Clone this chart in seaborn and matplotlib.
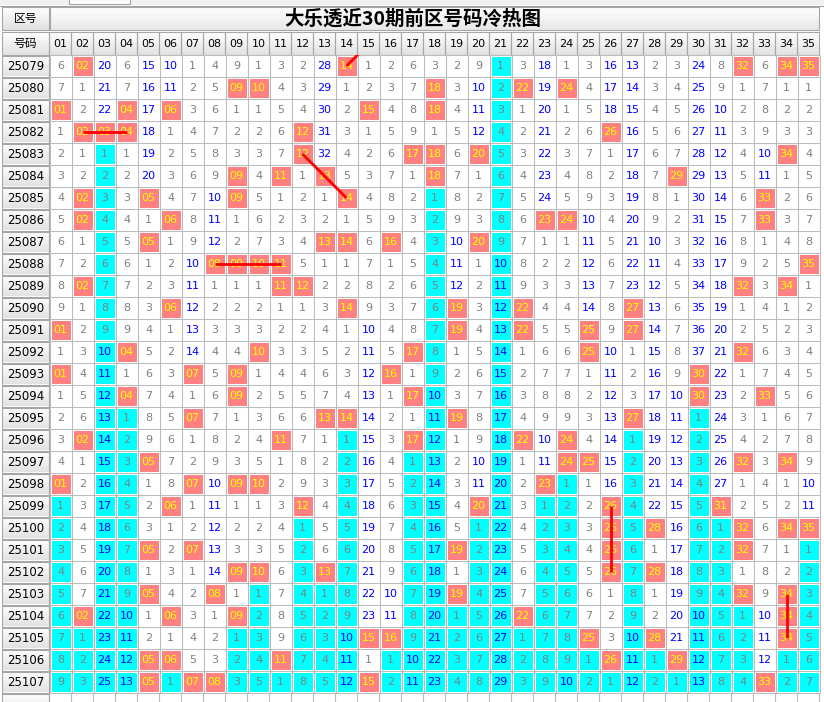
import numpy as np
import pandas as pd
import matplotlib
matplotlib.use("Agg")
import matplotlib.pyplot as plt
from matplotlib.colors import ListedColormap, to_rgb
from matplotlib.patches import Rectangle
import seaborn as sns

sns.set_theme(style="white")
CJK = ["Noto Sans CJK SC", "DejaVu Sans"]
plt.rcParams["font.family"] = ["DejaVu Sans"]

TITLE = "大乐透近30期前区号码冷热图"
CORNER_TOP = "区号"
CORNER_BOTTOM = "号码"

periods = [str(p) for p in range(25079, 25108)]
numbers = [f"{n:02d}" for n in range(1, 36)]

# omission count of every front-zone number per period (0 = drawn that period)
r25079 = [6, 0, 20, 6, 15, 10, 1, 4, 9, 1, 3, 2, 28, 0, 1, 2, 6, 3, 2, 9, 1, 3, 18, 1, 3, 16, 13, 2, 3, 24, 8, 0, 6, 0, 0]
r25080 = [7, 1, 21, 7, 16, 11, 2, 5, 0, 0, 4, 3, 29, 1, 2, 3, 7, 0, 3, 10, 2, 0, 19, 0, 4, 17, 14, 3, 4, 25, 9, 1, 7, 1, 1]
r25081 = [0, 2, 22, 0, 17, 0, 3, 6, 1, 1, 5, 4, 30, 2, 0, 4, 8, 0, 4, 11, 3, 1, 20, 1, 5, 18, 15, 4, 5, 26, 10, 2, 8, 2, 2]
r25082 = [1, 0, 0, 0, 18, 1, 4, 7, 2, 2, 6, 0, 31, 3, 1, 5, 9, 1, 5, 12, 4, 2, 21, 2, 6, 0, 16, 5, 6, 27, 11, 3, 9, 3, 3]
r25083 = [2, 1, 1, 1, 19, 2, 5, 8, 3, 3, 7, 0, 32, 4, 2, 6, 0, 0, 6, 0, 5, 3, 22, 3, 7, 1, 17, 6, 7, 28, 12, 4, 10, 0, 4]
r25084 = [3, 2, 2, 2, 20, 3, 6, 9, 0, 4, 0, 1, 0, 5, 3, 7, 1, 0, 7, 1, 6, 4, 23, 4, 8, 2, 18, 7, 0, 29, 13, 5, 11, 1, 5]
r25085 = [4, 0, 3, 3, 0, 4, 7, 10, 0, 5, 1, 2, 1, 0, 4, 8, 2, 1, 8, 2, 7, 5, 24, 5, 9, 3, 19, 8, 1, 30, 14, 6, 0, 2, 6]
r25086 = [5, 0, 4, 4, 1, 0, 8, 11, 1, 6, 2, 3, 2, 1, 5, 9, 3, 2, 9, 3, 8, 6, 0, 0, 10, 4, 20, 9, 2, 31, 15, 7, 0, 3, 7]
r25087 = [6, 1, 5, 5, 0, 1, 9, 12, 2, 7, 3, 4, 0, 0, 6, 0, 4, 3, 10, 0, 9, 7, 1, 1, 11, 5, 21, 10, 3, 32, 16, 8, 1, 4, 8]
r25088 = [7, 2, 6, 6, 1, 2, 10, 0, 0, 0, 0, 5, 1, 1, 7, 1, 5, 4, 11, 1, 10, 8, 2, 2, 12, 6, 22, 11, 4, 33, 17, 9, 2, 5, 0]
r25089 = [8, 0, 7, 7, 2, 3, 11, 1, 1, 1, 0, 0, 2, 2, 8, 2, 6, 5, 12, 2, 11, 9, 3, 3, 13, 7, 23, 12, 5, 34, 18, 0, 3, 0, 1]
r25090 = [9, 1, 8, 8, 3, 0, 12, 2, 2, 2, 1, 1, 3, 0, 9, 3, 7, 6, 0, 3, 12, 0, 4, 4, 14, 8, 0, 13, 6, 35, 19, 1, 4, 1, 2]
r25091 = [0, 2, 9, 9, 4, 1, 13, 3, 3, 3, 2, 2, 4, 1, 10, 4, 8, 7, 0, 4, 13, 0, 5, 5, 0, 9, 0, 14, 7, 36, 20, 2, 5, 2, 3]
r25092 = [1, 3, 10, 0, 5, 2, 14, 4, 4, 0, 3, 3, 5, 2, 11, 5, 0, 8, 1, 5, 14, 1, 6, 6, 0, 10, 1, 15, 8, 37, 21, 0, 6, 3, 4]
r25093 = [0, 4, 11, 1, 6, 3, 0, 5, 0, 1, 4, 4, 6, 3, 12, 0, 1, 9, 2, 6, 15, 2, 7, 7, 1, 11, 2, 16, 9, 0, 22, 1, 7, 4, 5]
r25094 = [1, 5, 12, 0, 7, 4, 1, 6, 0, 2, 5, 5, 7, 4, 13, 1, 0, 10, 3, 7, 16, 3, 8, 8, 2, 12, 3, 17, 10, 0, 23, 2, 0, 5, 6]
r25095 = [2, 6, 13, 1, 8, 5, 0, 7, 1, 3, 6, 6, 0, 0, 14, 2, 1, 11, 0, 8, 17, 4, 9, 9, 3, 13, 0, 18, 11, 1, 24, 3, 1, 6, 7]
r25096 = [3, 0, 14, 2, 9, 6, 1, 8, 2, 4, 0, 7, 1, 1, 15, 3, 0, 12, 1, 9, 18, 0, 10, 0, 4, 14, 1, 19, 12, 2, 25, 4, 2, 7, 8]
r25097 = [4, 1, 15, 3, 0, 7, 2, 9, 3, 5, 1, 8, 2, 2, 16, 4, 1, 13, 2, 10, 19, 1, 11, 0, 0, 15, 2, 20, 13, 3, 26, 0, 3, 0, 9]
r25098 = [0, 2, 16, 4, 1, 8, 0, 10, 0, 0, 2, 9, 3, 3, 17, 5, 2, 14, 3, 11, 20, 2, 0, 1, 1, 16, 3, 21, 14, 4, 27, 1, 4, 1, 10]
r25099 = [1, 3, 17, 5, 2, 0, 1, 11, 1, 1, 3, 0, 4, 4, 18, 6, 3, 15, 4, 0, 21, 3, 1, 2, 2, 0, 4, 22, 15, 5, 0, 2, 5, 2, 11]
r25100 = [2, 4, 18, 6, 3, 1, 2, 12, 2, 2, 4, 1, 5, 5, 19, 7, 4, 16, 5, 1, 22, 4, 2, 3, 3, 0, 5, 0, 16, 6, 1, 0, 6, 0, 0]
r25101 = [3, 5, 19, 7, 0, 2, 0, 13, 3, 3, 5, 2, 6, 6, 20, 8, 5, 17, 0, 2, 23, 5, 3, 4, 4, 0, 6, 1, 17, 7, 2, 0, 7, 1, 1]
r25102 = [4, 6, 20, 8, 1, 3, 1, 14, 0, 0, 6, 3, 0, 7, 21, 9, 6, 18, 1, 3, 24, 6, 4, 5, 5, 0, 7, 0, 18, 8, 3, 1, 8, 2, 2]
r25103 = [5, 7, 21, 9, 0, 4, 2, 0, 1, 1, 7, 4, 1, 8, 22, 10, 7, 19, 0, 4, 25, 7, 5, 6, 6, 1, 8, 1, 19, 9, 4, 0, 9, 0, 3]
r25104 = [6, 0, 22, 10, 1, 0, 3, 1, 0, 2, 8, 5, 2, 9, 23, 11, 8, 20, 1, 5, 26, 0, 6, 7, 7, 2, 9, 2, 20, 10, 5, 1, 10, 0, 4]
r25105 = [7, 1, 23, 11, 2, 1, 4, 2, 1, 3, 9, 6, 3, 10, 0, 0, 9, 21, 2, 6, 27, 1, 7, 8, 0, 3, 10, 0, 21, 11, 6, 2, 11, 0, 5]
r25106 = [8, 2, 24, 12, 0, 0, 5, 3, 2, 4, 0, 7, 4, 11, 1, 1, 10, 22, 3, 7, 28, 2, 8, 9, 1, 0, 11, 1, 0, 12, 7, 3, 12, 1, 6]
r25107 = [9, 3, 25, 13, 0, 1, 0, 0, 3, 5, 1, 8, 5, 12, 0, 2, 11, 23, 4, 8, 29, 3, 9, 10, 2, 1, 12, 2, 1, 13, 8, 4, 0, 2, 7]

rows = [r25079, r25080, r25081, r25082, r25083, r25084, r25085, r25086, r25087,
        r25088, r25089, r25090, r25091, r25092, r25093, r25094, r25095, r25096,
        r25097, r25098, r25099, r25100, r25101, r25102, r25103, r25104, r25105,
        r25106, r25107]

HIT_BG = "#ff8080"
TAIL_BG = "#00ffff"
HIT_FG = "#ffff00"
COLD_FG = "#0000ff"
WARM_FG = "#808080"
GRID = "#bcbcbc"

omit = pd.DataFrame(rows, index=periods, columns=numbers)
n_rows, n_cols = omit.shape
hit = (omit.values == 0)

# cells after a number's last appearance form its current cold streak
idx = np.arange(n_rows)[:, None]
last_hit = np.where(hit.any(axis=0), np.where(hit, idx, -1).max(axis=0), -1)
tail = idx > last_hit[None, :]
state = pd.DataFrame(np.where(hit, 2, np.where(tail, 1, 0)), index=periods, columns=numbers)
labels = np.where(hit, np.tile(np.array(numbers), (n_rows, 1)), omit.values.astype(str))

W, H = 824, 702
CELL = 22.0
X0, Y0 = 49.5, 55.0

fig = plt.figure(figsize=(W / 100, H / 100), dpi=100)
fig.patch.set_facecolor("white")

bg = fig.add_axes([0, 0, 1, 1])
bg.set_axis_off()


def button(x0, y0, w, h, top="#ffffff", bottom="#e2e2e2", edge="#a6a6a6"):
    c0 = np.array(to_rgb(top))
    c1 = np.array(to_rgb(bottom))
    t = np.linspace(0, 1, 32)[:, None, None]
    img = c0 * (1 - t) + c1 * t
    bg.imshow(img, extent=(x0, x0 + w, y0 + h, y0), origin="upper",
              aspect="auto", interpolation="bilinear", zorder=1)
    bg.add_patch(Rectangle((x0, y0), w, h, fill=False, ec=edge, lw=0.8, zorder=2))


# top strip of the window
bg.add_patch(Rectangle((0, 0), W, 5, fc="#f0f0f0", ec="none", zorder=0))
bg.add_patch(Rectangle((69, -1), 61, 5, fc="#fbfbfb", ec="#a0a0a0", lw=0.8, zorder=1))
bg.plot([0, W], [5.5, 5.5], color="#a0a0a0", lw=0.8, zorder=1)

# header rows
button(2, 7, 47, 23)
bg.text(25.5, 18.5, CORNER_TOP, ha="center", va="center", fontsize=8.5, family=CJK, color="black", zorder=3)
button(50, 7, 769, 23, top="#ffffff", bottom="#e8e8e8")
bg.text(413, 18.5, TITLE, ha="center", va="center", fontsize=14, fontweight="bold",
        family=CJK, color="black", zorder=3)
button(2, 32, 47, 23)
bg.text(25.5, 43.5, CORNER_BOTTOM, ha="center", va="center", fontsize=8.5, family=CJK, color="black", zorder=3)
for j, lab in enumerate(numbers):
    button(X0 + CELL * j, 32, CELL, 23)
    bg.text(X0 + CELL * (j + 0.5), 43.8, lab, ha="center", va="center", fontsize=8,
            color="black", zorder=3)

# period labels
for i, p in enumerate(periods):
    button(2, Y0 + CELL * i + 1, 47, CELL - 1.5)
    bg.text(25.5, Y0 + CELL * (i + 0.5), p, ha="center", va="center", fontsize=8.5,
            color="black", zorder=3)

# blank row under the last period
yb = Y0 + CELL * n_rows
button(2, yb + 1, 47, CELL - 1.5)
for j in range(n_cols + 1):
    bg.plot([X0 + CELL * j] * 2, [yb, yb + CELL], color=GRID, lw=0.8, zorder=1)

bg.set_xlim(0, W)
bg.set_ylim(H, 0)

# main grid
hm = fig.add_axes([X0 / W, (H - yb) / H, CELL * n_cols / W, CELL * n_rows / H])
sns.heatmap(state, ax=hm, cmap=ListedColormap(["#ffffff", TAIL_BG, HIT_BG]),
            vmin=0, vmax=2, cbar=False, annot=labels, fmt="",
            annot_kws={"fontsize": 8, "family": "DejaVu Sans"},
            linewidths=1.9, linecolor="white", xticklabels=False, yticklabels=False)
hm.set_xlabel("")
hm.set_ylabel("")
hm.hlines(np.arange(n_rows + 1), 0, n_cols, color=GRID, lw=0.75, clip_on=False, zorder=3)
hm.vlines(np.arange(n_cols + 1), 0, n_rows, color=GRID, lw=0.75, clip_on=False, zorder=3)

for t in hm.texts:
    x, y = t.get_position()
    r, c = int(y), int(x)
    if hit[r, c]:
        t.set_color(HIT_FG)
    elif omit.values[r, c] >= 10:
        t.set_color(COLD_FG)
    else:
        t.set_color(WARM_FG)

# red links through three or more adjacent draws; the two periods before the
# first row are recovered from its omission counts of 1 and 2
first = omit.values[0]
ext = np.vstack([first == 2, first == 1, hit])
off = 2
for dr, dc in [(0, 1), (1, 0), (1, 1), (1, -1)]:
    for r in range(ext.shape[0]):
        for c in range(n_cols):
            if not ext[r, c]:
                continue
            pr, pc = r - dr, c - dc
            if 0 <= pr < ext.shape[0] and 0 <= pc < n_cols and ext[pr, pc]:
                continue
            k = 1
            while (0 <= r + dr * k < ext.shape[0] and 0 <= c + dc * k < n_cols
                   and ext[r + dr * k, c + dc * k]):
                k += 1
            if k >= 3:
                r1, c1 = r + dr * (k - 1), c + dc * (k - 1)
                hm.plot([c + 0.5, c1 + 0.5], [r - off + 0.5, r1 - off + 0.5],
                        color="#ff0000", lw=2.0, solid_capstyle="butt", zorder=6)

hm.set_xlim(0, n_cols)
hm.set_ylim(n_rows, 0)

fig.savefig("out.png", dpi=100, facecolor=fig.get_facecolor())
